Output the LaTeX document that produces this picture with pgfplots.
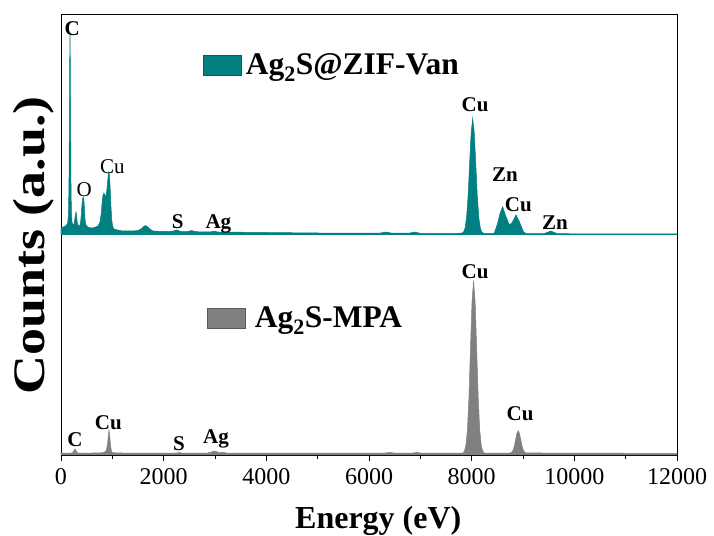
\documentclass[border=0pt]{standalone}
\usepackage{pgfplots}
\pgfplotsset{compat=1.18}
\usepackage{fontspec}
\setmainfont{Liberation Serif}
\definecolor{tealc}{RGB}{0,128,128}
\definecolor{tealedge}{RGB}{0,95,95}
\definecolor{grayc}{RGB}{128,128,128}
\definecolor{grayedge}{RGB}{90,90,90}
\newcommand{\pk}{\fontsize{21}{21}\selectfont\bfseries}
\newcommand{\pkr}{\fontsize{21}{21}\selectfont}
\begin{document}
\begin{tikzpicture}
\useasboundingbox (-61pt,-80pt) rectangle (653pt,455pt);
\begin{axis}[
  scale only axis, width=616pt, height=441pt,
  xmin=0, xmax=12000, ymin=0, ymax=441,
  xtick={0,2000,...,12000}, minor x tick num=1,
  xtick pos=bottom, ytick=\empty,
  tick align=outside,
  major tick length=6pt, minor tick length=4pt,
  scaled x ticks=false,
  axis line style={line width=0.9pt},
  tick style={line width=0.9pt, black},
  /pgf/number format/assume math mode=true,
  /pgf/number format/1000 sep={},
  xticklabel style={font=\fontsize{24}{24}\selectfont, anchor=base, yshift=-23pt},
  xlabel={\textbf{Energy (eV)}},
  xlabel style={font=\fontsize{32}{32}\selectfont, at={(axis description cs:0.515,-0.166)}, anchor=base},
  ylabel={\textbf{Counts (a.u.)}},
  ylabel style={font=\fontsize{45}{45}\selectfont, at={(axis description cs:-0.045,0.475)}, anchor=center, xscale=1.2},
  clip=true,
]
% top spectrum: Ag2S@ZIF-Van
\addplot[fill=tealc, draw=tealc, line width=0.5pt] coordinates {
(0,220) (0,227) (50,228) (100,229.5) (130,232) (145,240) (155,270) (163,330) (170,395) (176,422)
(182,390) (188,330) (195,270) (203,242) (215,233) (235,230) (255,231) (270,236) (282,241) (292,243)
(302,240) (315,233) (335,229) (360,229) (380,232) (395,240) (408,250) (420,256) (434,258) (446,255)
(456,247) (468,236) (485,230) (520,228) (580,227) (650,227.5) (720,229) (760,233) (785,242) (800,252)
(815,259) (835,262) (855,260) (875,258) (895,266) (912,276) (925,282) (934,283) (945,279) (958,267)
(972,250) (988,236) (1005,229) (1030,226) (1100,225) (1200,224) (1400,224) (1500,224.5) (1560,226)
(1610,228.5) (1647,229.5) (1690,228) (1740,225.5) (1800,224) (2000,223.5) (2160,223.5) (2250,225)
(2340,223.5) (2460,223.3) (2540,224.5) (2620,223.3) (2900,223) (2980,223.8) (3060,223) (4000,222.5)
(5000,222) (6200,221.8) (6334,223) (6450,221.8) (6780,221.8) (6885,223) (7000,221.7) (7600,221.6)
(7800,221.8) (7840,222.8) (7870,226.6) (7900,237) (7930,258.9) (7960,291.6) (7990,322.7) (8020,336.7)
(8050,322.7) (8080,291.6) (8110,258.9) (8140,237) (8170,226.6) (8200,222.8) (8240,221.5) (8400,221.5)
(8441,222) (8506,231.7) (8552,241.7) (8604,248.3) (8656,240) (8734,230) (8786,232.3) (8864,240)
(8929,233.3) (9007,223.3) (9059,221.5) (9400,221.3) (9470,222.5) (9540,224) (9610,222.5) (9680,221.3)
(10500,221.1) (12000,221) (12000,220)
};
% bottom spectrum: Ag2S-MPA
\addplot[fill=grayc, draw=grayc, line width=0.5pt] coordinates {
(0,0) (0,1.8) (200,2) (235,2.5) (255,4.5) (272,6) (290,4.5) (310,2.5) (340,2) (600,2) (800,2.2)
(850,3) (880,4.5) (905,10) (920,18) (935,25) (950,19) (965,9) (985,3.5) (1010,2.3) (1200,2)
(2000,1.9) (2250,2) (2300,2.4) (2350,2) (2850,2) (2920,2.8) (2990,4) (3060,2.8) (3110,2.3)
(3160,2.8) (3220,2) (6300,1.9) (6400,2.6) (6500,1.9) (6850,1.9) (6930,2.6) (7010,1.9) (7800,1.9)
(7827,2) (7857,3.7) (7887,9.4) (7917,25.1) (7947,57.8) (7977,107) (8007,153.6) (8037,174.3)
(8067,153.6) (8097,107) (8127,57.8) (8157,25.1) (8187,9.4) (8217,3.7) (8247,2) (8700,1.9)
(8756,2.1) (8781,2.8) (8806,4.8) (8831,9.1) (8856,15.5) (8881,21.6) (8906,24.3) (8931,21.6)
(8956,15.5) (8981,9.1) (9006,4.8) (9031,2.8) (9056,2.1) (10000,1.8) (12000,1.7) (12000,0)
};
% legends
\node[anchor=base west, inner sep=0pt] at (axis cs:2766,380) {{\setlength{\fboxsep}{0pt}\setlength{\fboxrule}{0.8pt}\fcolorbox{tealedge}{tealc}{\rule{0pt}{19pt}\hspace{37pt}}}\hspace{4pt}{\fontsize{31.5}{31.5}\selectfont\bfseries Ag\textsubscript{2}S@ZIF-Van}};
\node[anchor=base west, inner sep=0pt] at (axis cs:2844,127) {{\setlength{\fboxsep}{0pt}\setlength{\fboxrule}{0.8pt}\fcolorbox{grayedge}{grayc}{\rule{0pt}{19pt}\hspace{37pt}}}\hspace{9pt}{\fontsize{31.5}{31.5}\selectfont\bfseries Ag\textsubscript{2}S-MPA}};
% peak labels top
\node at (axis cs:220,426) {\pk C};
\node at (axis cs:454,265) {\pkr O};
\node at (axis cs:999,288) {\pkr Cu};
\node at (axis cs:2273,233) {\pk S};
\node at (axis cs:3065,231) {\pk Ag};
\node at (axis cs:8066,350) {\pk Cu};
\node at (axis cs:8650,280) {\pk Zn};
\node at (axis cs:8908,250) {\pk Cu};
\node at (axis cs:9623,232.3) {\pk Zn};
% peak labels bottom
\node at (axis cs:273,15) {\pk C};
\node at (axis cs:922,32.3) {\pk Cu};
\node at (axis cs:2300,11) {\pk S};
\node at (axis cs:3020,15.7) {\pk Ag};
\node at (axis cs:8066,183.3) {\pk Cu};
\node at (axis cs:8942,41) {\pk Cu};
\end{axis}
\end{tikzpicture}
\end{document}
